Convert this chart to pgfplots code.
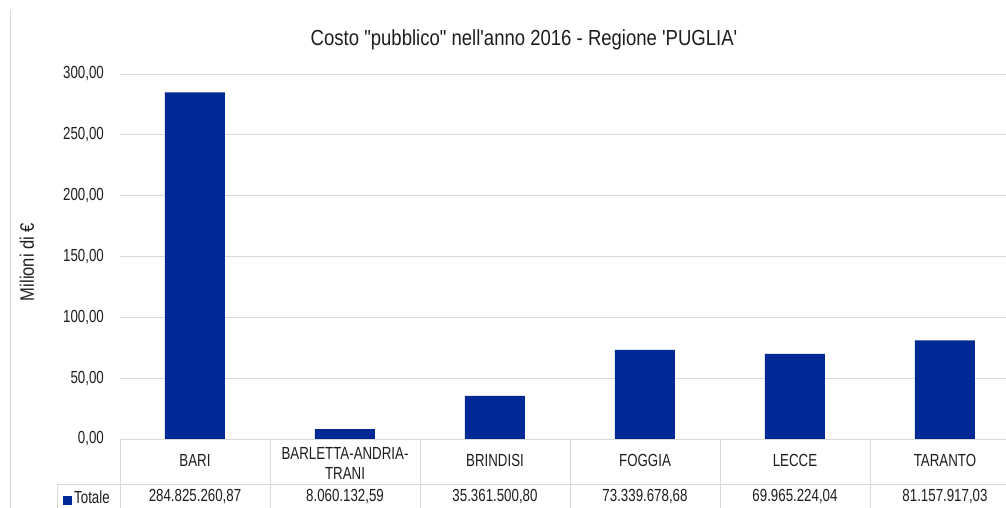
\documentclass[border=0pt]{standalone}
\usepackage{fontspec}
\setmainfont{Liberation Sans}[FakeStretch=0.76]
\newfontfamily\widefont{Liberation Sans}[FakeStretch=0.85]
\usepackage{pgfplots}
\pgfplotsset{compat=1.18}
\definecolor{barblue}{RGB}{0,41,150}
\definecolor{gridgray}{RGB}{217,217,217}
\definecolor{txt}{RGB}{30,30,30}
\newcommand{\lbl}{\fontsize{17.5}{20}\selectfont\color{txt}}

\begin{document}
\begin{tikzpicture}[x=1pt,y=1pt]
\useasboundingbox (0,0) rectangle (1006,508);
\fill[white] (0,0) rectangle (1006,508);
\draw[gridgray, line width=0.8pt] (10,0) -- (10,498);

\begin{axis}[
  at={(120pt,69pt)}, anchor=south west,
  scale only axis, width=886pt, height=365pt,
  xmin=-0.5, xmax=5.407, ymin=0, ymax=300,
  ytick={0,50,...,300}, xtick=\empty,
  axis line style={draw=none},
  major tick length=0pt,
  ymajorgrids, grid style={gridgray, line width=0.8pt},
  yticklabel style={font=\lbl, inner sep=0pt, xshift=-16pt},
  /pgf/number format/fixed,
  /pgf/number format/fixed zerofill,
  /pgf/number format/precision=2,
  /pgf/number format/use comma,
  /pgf/number format/1000 sep={.},
  /pgf/number format/assume math mode=true,
]
\addplot[ybar, bar width=60pt, fill=barblue, draw=none] coordinates {
  (0,284.825) (1,8.060) (2,35.362) (3,73.340) (4,69.965) (5,81.158)
};
\end{axis}

% title and axis label
\node[font=\widefont\fontsize{21.8}{24}\selectfont, text=txt] at (524,468)
  {Costo \symbol{34}pubblico\symbol{34} nell\symbol{39}anno 2016 - Regione \symbol{39}PUGLIA\symbol{39}};
\node[font=\widefont\fontsize{19.5}{22}\selectfont, text=txt, rotate=90] at (27,246) {Milioni di €};

% data table
\draw[gridgray, line width=0.8pt] (57,24) -- (1006,24);
\draw[gridgray, line width=0.8pt] (57,24) -- (57,0);
\foreach \xx in {120,270,420,570,720,870}
  \draw[gridgray, line width=0.8pt] (\xx,69) -- (\xx,0);

\node[font=\lbl] at (195,48) {BARI};
\node[font=\lbl, align=center] at (345,45) {BARLETTA-ANDRIA-\\TRANI};
\node[font=\lbl] at (495,48) {BRINDISI};
\node[font=\lbl] at (645,48) {FOGGIA};
\node[font=\lbl] at (795,48) {LECCE};
\node[font=\lbl] at (945,48) {TARANTO};

\fill[barblue] (63,3) rectangle (72,12);
\node[font=\lbl, anchor=west, inner sep=0pt] at (74,11) {Totale};
\node[font=\lbl] at (195,11) {284.825.260,87};
\node[font=\lbl] at (345,11) {8.060.132,59};
\node[font=\lbl] at (495,11) {35.361.500,80};
\node[font=\lbl] at (645,11) {73.339.678,68};
\node[font=\lbl] at (795,11) {69.965.224,04};
\node[font=\lbl] at (945,11) {81.157.917,03};
\end{tikzpicture}
\end{document}
